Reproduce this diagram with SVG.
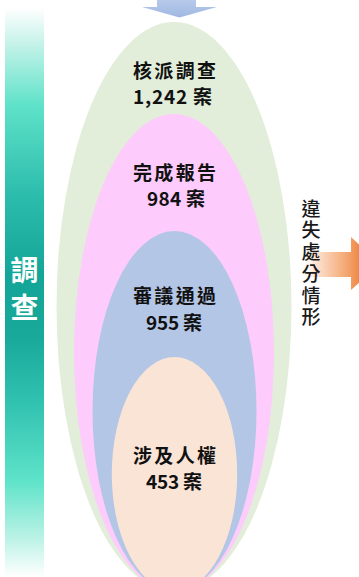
<svg xmlns="http://www.w3.org/2000/svg" width="359" height="577" viewBox="0 0 359 577">
  <defs>
    <linearGradient id="barGrad" x1="0" y1="8" x2="0" y2="577" gradientUnits="userSpaceOnUse">
      <stop offset="0" stop-color="#ffffff"/>
      <stop offset="0.06" stop-color="#c8f3ea"/>
      <stop offset="0.17" stop-color="#5fe2c9"/>
      <stop offset="0.33" stop-color="#2cbcac"/>
      <stop offset="0.47" stop-color="#13a598"/>
      <stop offset="0.58" stop-color="#19a99b"/>
      <stop offset="0.70" stop-color="#33c3b1"/>
      <stop offset="0.83" stop-color="#5ee3c9"/>
      <stop offset="0.93" stop-color="#b9f2e5"/>
      <stop offset="1" stop-color="#ffffff"/>
    </linearGradient>
    <linearGradient id="downGrad" x1="0" y1="0" x2="0" y2="18" gradientUnits="userSpaceOnUse">
      <stop offset="0" stop-color="#b8caeb"/>
      <stop offset="1" stop-color="#9fb7e2"/>
    </linearGradient>
    <linearGradient id="rightGrad" x1="300" y1="0" x2="359" y2="0" gradientUnits="userSpaceOnUse">
      <stop offset="0" stop-color="#ffffff" stop-opacity="0"/>
      <stop offset="0.25" stop-color="#fde6d6"/>
      <stop offset="0.8" stop-color="#f3a56e"/>
      <stop offset="1" stop-color="#ee8a48"/>
    </linearGradient>
    <style>
      .lbl { font-family: "Noto Sans CJK TC", "Noto Sans CJK JP", sans-serif; font-size: 19px; font-weight: bold; fill: #111111; text-anchor: middle; }
      .side { font-family: "Noto Sans CJK TC", "Noto Sans CJK JP", sans-serif; font-size: 19px; font-weight: 500; fill: #1a1a1a; writing-mode: vertical-rl; text-orientation: upright; letter-spacing: 2.7px; }
      .bar { font-family: "Noto Sans CJK TC", "Noto Sans CJK JP", sans-serif; font-size: 28px; font-weight: bold; fill: #ffffff; text-anchor: middle; }
    </style>
  </defs>

  <rect width="359" height="577" fill="#ffffff"/>

  <g id="investigation-bar">
    <rect x="5" y="8" width="39" height="569" fill="url(#barGrad)"/>
    <text class="bar" x="24.5" y="281">調</text>
    <text class="bar" x="24.5" y="318">查</text>
  </g>

  <g id="assigned">
    <ellipse cx="174" cy="306.5" rx="117.5" ry="284.5" fill="#e2eed9"/>
    <text class="lbl"><tspan x="174.5" y="77.5" textLength="83" lengthAdjust="spacing">核派調查</tspan><tspan x="172.5" y="103.5" textLength="79" lengthAdjust="spacing">1,242 案</tspan></text>
  </g>

  <g id="reported">
    <ellipse cx="174" cy="352.5" rx="100" ry="238.5" fill="#fdcbfc"/>
    <text class="lbl"><tspan x="174.5" y="180" textLength="83" lengthAdjust="spacing">完成報告</tspan><tspan x="176" y="206" textLength="58" lengthAdjust="spacing">984 案</tspan></text>
  </g>

  <g id="approved">
    <ellipse cx="174.5" cy="411" rx="82" ry="180" fill="#b4c6e6"/>
    <text class="lbl"><tspan x="174.5" y="303" textLength="83" lengthAdjust="spacing">審議通過</tspan><tspan x="174" y="329.5" textLength="56" lengthAdjust="spacing">955 案</tspan></text>
  </g>

  <g id="human-rights">
    <ellipse cx="174.5" cy="474" rx="62.7" ry="117" fill="#fae4d6"/>
    <text class="lbl"><tspan x="174.5" y="463" textLength="83" lengthAdjust="spacing">涉及人權</tspan><tspan x="174" y="489" textLength="56" lengthAdjust="spacing">453 案</tspan></text>
  </g>

  <g id="connectors">
    <path d="M157,0 L196,0 L196,7 L217,7 L179.5,17.5 L142,7 L157,7 Z" fill="url(#downGrad)"/>
    <path d="M300,252 L351,252 L351,237 L380,264 L351,290 L351,277 L300,277 Z" fill="url(#rightGrad)"/>
  </g>

  <g id="disciplinary">
    <text class="side" x="311" y="199">違失處分情形</text>
  </g>
</svg>
